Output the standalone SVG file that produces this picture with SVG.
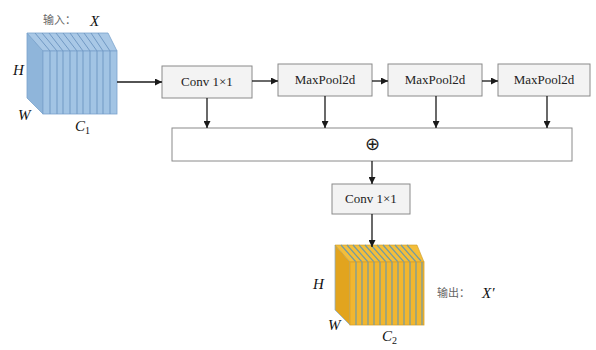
<svg xmlns="http://www.w3.org/2000/svg" width="596" height="350" viewBox="0 0 596 350">
<defs>
<marker id="ah" viewBox="0 0 10 10" refX="10" refY="5" markerWidth="7" markerHeight="7" markerUnits="userSpaceOnUse" orient="auto">
<path d="M0,0 L10,5 L0,10 z" fill="#1a1a1a"/>
</marker>
<style>
.box{fill:#f3f3f3;stroke:#8a8a8a;stroke-width:1}
.bt{font-family:"Liberation Serif","Times New Roman",serif;font-size:13px;fill:#222;text-anchor:middle}
.lab{font-family:"Liberation Serif","Times New Roman",serif;font-style:italic;font-size:15px;fill:#111}
.sub{font-family:"Liberation Serif","Times New Roman",serif;font-size:10px;fill:#111}
.cn{font-family:"Noto Sans CJK SC","Noto Sans",sans-serif;font-size:11px;fill:#666}
.con{stroke:#1a1a1a;stroke-width:1.3;fill:none;marker-end:url(#ah)}
.bs{stroke:#7199c4;stroke-width:1}
.ys{stroke:#6f9aa6;stroke-width:1.2}
</style>
</defs>
<rect width="596" height="350" fill="#ffffff"/>

<g id="input">
<polygon points="27,33 43,51 43,114 27,98" fill="#8fb5da" stroke="#7aa2cc" stroke-width="0.8"/>
<polygon points="27,33 108,33 117,51 43,51" fill="#a9c8e6" stroke="#7aa2cc" stroke-width="0.8"/>
<g class="bs">
<line x1="35" y1="33" x2="50" y2="51"/><line x1="42" y1="33" x2="57" y2="51"/><line x1="49" y1="33" x2="63" y2="51"/>
<line x1="56" y1="33" x2="70" y2="51"/><line x1="63" y1="33" x2="77" y2="51"/><line x1="70" y1="33" x2="83" y2="51"/>
<line x1="77" y1="33" x2="90" y2="51"/><line x1="84" y1="33" x2="97" y2="51"/><line x1="91" y1="33" x2="103" y2="51"/>
<line x1="98" y1="33" x2="110" y2="51"/>
</g>
<rect x="43" y="51" width="74" height="63" fill="#a2c4e4" stroke="#7aa2cc" stroke-width="0.8"/>
<g class="bs">
<line x1="50" y1="51" x2="50" y2="114"/><line x1="57" y1="51" x2="57" y2="114"/><line x1="63" y1="51" x2="63" y2="114"/>
<line x1="70" y1="51" x2="70" y2="114"/><line x1="77" y1="51" x2="77" y2="114"/><line x1="83" y1="51" x2="83" y2="114"/>
<line x1="90" y1="51" x2="90" y2="114"/><line x1="97" y1="51" x2="97" y2="114"/><line x1="103" y1="51" x2="103" y2="114"/>
<line x1="110" y1="51" x2="110" y2="114"/>
</g>
<text class="cn" x="43" y="24">输入：</text>
<text class="lab" x="90" y="26">X</text>
<text class="lab" x="13" y="75">H</text>
<text class="lab" x="18" y="120">W</text>
<text class="lab" x="75" y="131">C</text><text class="sub" x="85" y="134">1</text>
</g>

<g id="conv1">
<rect class="box" x="162" y="66" width="90" height="32"/>
<text class="bt" x="207" y="86">Conv 1×1</text>
</g>
<g id="maxpool1">
<rect class="box" x="278" y="64" width="94" height="32"/>
<text class="bt" x="325" y="84">MaxPool2d</text>
</g>
<g id="maxpool2">
<rect class="box" x="388" y="64" width="94" height="32"/>
<text class="bt" x="435" y="84">MaxPool2d</text>
</g>
<g id="maxpool3">
<rect class="box" x="498" y="64" width="92" height="32"/>
<text class="bt" x="544" y="84">MaxPool2d</text>
</g>
<g id="sum">
<rect class="box" x="172" y="128" width="400" height="33" style="fill:#ffffff"/>
<text class="bt" x="372" y="150" style="font-size:18px">⊕</text>
</g>
<g id="conv2">
<rect class="box" x="332" y="184" width="78" height="30"/>
<text class="bt" x="371" y="203">Conv 1×1</text>
</g>

<g id="output">
<polygon points="335,245 350,262 350,325 335,310" fill="#e2a41e" stroke="#8fb0c8" stroke-width="0.8"/>
<polygon points="335,245 417,245 424,262 350,262" fill="#f4be3a" stroke="#c99a2a" stroke-width="0.6"/>
<g class="ys">
<line x1="341" y1="245" x2="356" y2="262"/><line x1="347" y1="245" x2="362" y2="262"/><line x1="353" y1="245" x2="368" y2="262"/>
<line x1="359" y1="245" x2="374" y2="262"/><line x1="365" y1="245" x2="380" y2="262"/><line x1="371" y1="245" x2="386" y2="262"/>
<line x1="377" y1="245" x2="392" y2="262"/><line x1="383" y1="245" x2="398" y2="262"/><line x1="389" y1="245" x2="404" y2="262"/>
<line x1="395" y1="245" x2="410" y2="262"/><line x1="401" y1="245" x2="416" y2="262"/><line x1="407" y1="245" x2="421" y2="261"/>
</g>
<rect x="350" y="262" width="74" height="63" fill="#f2b62e" stroke="#d9a12a" stroke-width="0.8"/>
<g class="ys">
<line x1="356" y1="262" x2="356" y2="325"/><line x1="362" y1="262" x2="362" y2="325"/><line x1="368" y1="262" x2="368" y2="325"/>
<line x1="374" y1="262" x2="374" y2="325"/><line x1="380" y1="262" x2="380" y2="325"/><line x1="386" y1="262" x2="386" y2="325"/>
<line x1="392" y1="262" x2="392" y2="325"/><line x1="398" y1="262" x2="398" y2="325"/><line x1="404" y1="262" x2="404" y2="325"/>
<line x1="410" y1="262" x2="410" y2="325"/><line x1="416" y1="262" x2="416" y2="325"/><line x1="422" y1="262" x2="422" y2="325"/>
</g>
<text class="lab" x="313" y="289">H</text>
<text class="lab" x="328" y="330">W</text>
<text class="lab" x="382" y="341">C</text><text class="sub" x="392" y="344">2</text>
<text class="cn" x="437" y="297">输出：</text>
<text class="lab" x="482" y="298">X′</text>
</g>

<g id="connectors">
<line class="con" x1="117" y1="82" x2="162" y2="82"/>
<line class="con" x1="252" y1="81" x2="278" y2="81"/>
<line class="con" x1="372" y1="81" x2="388" y2="81"/>
<line class="con" x1="482" y1="81" x2="498" y2="81"/>
<line class="con" x1="207" y1="98" x2="207" y2="128"/>
<line class="con" x1="325" y1="96" x2="325" y2="128"/>
<line class="con" x1="436" y1="96" x2="436" y2="128"/>
<line class="con" x1="547" y1="96" x2="547" y2="128"/>
<line class="con" x1="372" y1="161" x2="372" y2="184"/>
<line class="con" x1="372" y1="214" x2="372" y2="247"/>
</g>
</svg>
